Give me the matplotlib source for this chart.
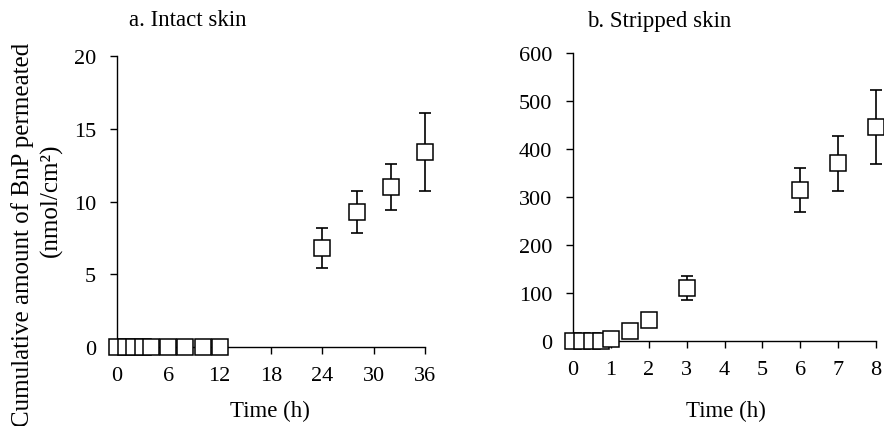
import matplotlib
matplotlib.use("Agg")
import matplotlib.pyplot as plt

plt.rcParams['font.family'] = ['Liberation Serif', 'DejaVu Serif']

# Panel a: intact skin
time_a = [0, 1, 2, 3, 4, 6, 8, 10, 12, 24, 28, 32, 36]
amount_a = [0, 0, 0, 0, 0, 0, 0, 0, 0, 6.8, 9.3, 11.0, 13.4]
err_a = [0, 0, 0, 0, 0, 0, 0, 0, 0, 1.4, 1.45, 1.6, 2.7]
xticks_a = [0, 6, 12, 18, 24, 30, 36]
yticks_a = [0, 5, 10, 15, 20]

# Panel b: stripped skin
time_b = [0, 0.25, 0.5, 0.75, 1, 1.5, 2, 3, 6, 7, 8]
amount_b = [0, 0, 0, 0, 4, 20, 44, 110, 315, 370, 445]
err_b = [0, 0, 0, 0, 0, 0, 0, 25, 46, 57, 77]
xticks_b = [0, 1, 2, 3, 4, 5, 6, 7, 8]
yticks_b = [0, 100, 200, 300, 400, 500, 600]

W, H = 884, 427
fig = plt.figure(figsize=(W / 100, H / 100), dpi=100)

def px_axes(x0, y0, x1, y1):
    return fig.add_axes([x0 / W, 1 - y1 / H, (x1 - x0) / W, (y1 - y0) / H])

def px_text(x, y, s, **kw):
    fig.text(x / W, 1 - y / H, s, ha='center', va='center', **kw)

ax1 = px_axes(117, 57, 425, 348)
ax2 = px_axes(573, 54, 876, 342)

def style(ax, xt, yt, xlim, ylim):
    for s in ['top', 'right']:
        ax.spines[s].set_visible(False)
    for s in ['left', 'bottom']:
        ax.spines[s].set_linewidth(1.0)
        ax.spines[s].set_color('black')
    ax.set_xlim(*xlim)
    ax.set_ylim(*ylim)
    ax.set_xticks(xt)
    ax.set_yticks(yt)
    ax.tick_params(direction='out', length=5, width=1.0, labelsize=16, colors='black')
    ax.tick_params(axis='x', pad=9)
    ax.tick_params(axis='y', pad=10)

def draw(ax, t, y, e):
    ax.errorbar(t, y, yerr=e, fmt='none', ecolor='black',
                elinewidth=1.2, capsize=4, capthick=1.2, clip_on=False, zorder=2)
    ax.plot(t, y, linestyle='none', marker='s', markersize=11, markerfacecolor='white',
            markeredgecolor='black', markeredgewidth=1.1, clip_on=False, zorder=3)

style(ax1, xticks_a, yticks_a, (0, 36), (0, 20))
draw(ax1, time_a, amount_a, err_a)

style(ax2, xticks_b, yticks_b, (0, 8), (0, 600))
draw(ax2, time_b, amount_b, err_b)

px_text(188, 21, 'a. Intact skin', fontsize=16.5)
px_text(659, 22, 'b. Stripped skin', fontsize=16.5)
px_text(270, 411, 'Time (h)', fontsize=16.5)
px_text(726, 411, 'Time (h)', fontsize=16.5)
px_text(23, 235, 'Cumulative amount of BnP permeated', fontsize=18, rotation=90)
px_text(51, 200, '(nmol/cm²)', fontsize=18, rotation=90)

fig.savefig('out.png', dpi=100)
